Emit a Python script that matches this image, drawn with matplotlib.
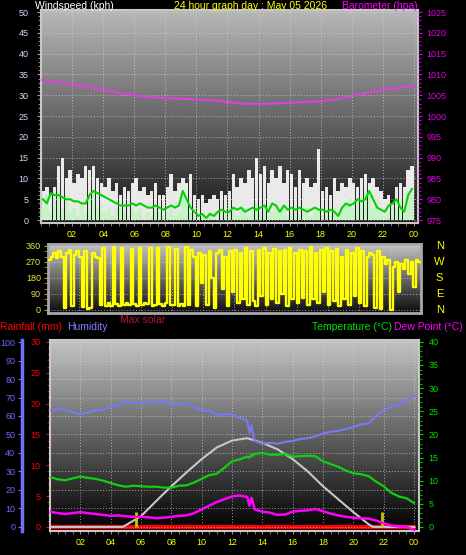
import numpy as np
import matplotlib.pyplot as plt
from matplotlib.colors import LinearSegmentedColormap
from matplotlib.ticker import MultipleLocator

plt.rcParams['font.family'] = ['Liberation Sans', 'DejaVu Sans']

W, H = 466, 555

# windspeed, 15 minute samples (kph)
wind_gust = [7, 8, 6, 8, 13, 15, 10, 12, 9, 11, 10, 13, 12, 13, 10, 9,
             8, 10, 7, 9, 6, 8, 7, 9, 10, 7, 8, 6, 7, 9, 6, 6,
             8, 11, 7, 9, 10, 9, 11, 6, 5, 6, 4, 5, 6, 5, 7, 6,
             7, 11, 8, 10, 9, 12, 10, 15, 11, 13, 9, 12, 10, 13, 9, 12,
             11, 8, 12, 9, 10, 8, 9, 17, 7, 8, 6, 10, 7, 9, 8, 10,
             9, 8, 10, 11, 9, 10, 8, 7, 5, 6, 4, 8, 9, 8, 12, 13]
wind_speed = [3, 6, 2, 5, 7, 3, 6, 2, 3, 1, 4, 2, 5, 7, 3, 4,
              2, 3, 1, 3, 3, 2, 1, 3, 2, 3, 0, 2, 1, 3, 2, 1,
              2, 3, 1, 2, 7, 4, 2, 1, 0, 1, 0, 2, 1, 0, 2, 1,
              2, 3, 1, 2, 3, 1, 2, 4, 2, 3, 1, 2, 3, 2, 3, 1,
              2, 3, 1, 2, 3, 1, 2, 3, 1, 2, 0, 3, 2, 3, 4, 5,
              3, 5, 4, 7, 6, 3, 5, 2, 1, 2, 4, 3, 5, 2, 7, 6]
wind_avg = [5, 4, 6.5, 6, 6, 5.5, 5, 5, 4.5, 4.5, 4, 4, 6, 7, 6.5, 6,
            5.5, 5, 4.5, 4, 3.5, 3.5, 3.5, 4, 3.5, 4, 3.5, 3, 3, 3.5, 3, 2.5,
            3, 3.5, 3, 3.5, 7, 5, 3, 2, 1, 1.5, 0.5, 1.5, 1, 2, 2.5, 2,
            2, 3, 2.5, 3, 2, 2.5, 3, 2.5, 3, 3.5, 2, 4, 3.5, 2, 3.5, 2.5,
            3, 2.5, 3, 2.5, 2, 2.5, 3, 2.5, 2.5, 2, 2.5, 2, 1, 3, 4, 3.5,
            4, 5, 4.5, 5, 7, 5, 3, 2.5, 2, 3.5, 4, 5, 3, 2, 6, 7.5]

# barometer, hourly (hpa)
baro_hours = list(range(25))
baro = [1008.7, 1008.2, 1007.6, 1007.0, 1006.3, 1005.6, 1005.0, 1004.6, 1004.3,
        1004.2, 1004.0, 1003.8, 1003.4, 1003.0, 1003.0, 1003.0, 1003.2, 1003.4,
        1003.6, 1004.0, 1004.8, 1005.6, 1006.3, 1006.8, 1007.2]

# wind direction, 10 minute samples (degrees)
wind_dir = [280, 300, 320, 290, 330, 300,
            10, 320, 340, 20, 310, 330,
            300, 15, 330, 5, 10, 320,
            300, 290, 30, 350, 25, 40,
            20, 355, 35, 25, 350, 30,
            40, 30, 345, 35, 25, 350,
            30, 40, 35, 350, 25, 30,
            350, 35, 25, 40, 355, 30,
            30, 345, 25, 35, 20, 355,
            30, 340, 300, 20, 320, 150,
            310, 30, 330, 180, 10, 320,
            340, 120, 300, 20, 330, 100,
            340, 40, 320, 60, 350, 30,
            330, 50, 20, 340, 80, 350,
            30, 320, 60, 345, 40, 330,
            90, 340, 20, 350, 60, 320,
            40, 340, 70, 330, 30, 355,
            60, 320, 40, 340, 100, 350,
            30, 330, 50, 345, 20, 300,
            60, 340, 30, 320, 80, 350,
            40, 330, 20, 300, 320, 310,
            10, 330, 5, 300, 260, 280,
            0, 240, 270, 100, 260, 230,
            280, 200, 270, 130, 280, 270]

# temperature / humidity panel
th = [0, 0.5, 1, 1.5, 2, 2.5, 3, 3.5, 4, 4.5, 5, 5.5, 6, 6.5, 7, 7.5, 8, 8.5,
      9, 9.5, 10, 10.5, 11, 11.5, 12, 12.5, 13, 13.15, 13.3, 13.4, 13.5, 14,
      14.5, 15, 15.5, 16, 16.5, 17, 17.5, 18, 18.5, 19, 19.5, 20, 20.5, 21,
      21.5, 22, 22.5, 23, 23.5, 24]
humidity = [63, 64, 63, 62, 61, 62, 63, 63.5, 65, 66, 68, 67, 67, 67.5, 67.5, 68,
            66, 66.5, 67, 65, 63, 63, 60.5, 61, 61, 59, 57.5, 51, 55, 49, 46.5, 45,
            45.5, 45, 46, 46.5, 47.5, 48, 49, 50.5, 51.5, 52, 53, 54, 55.5, 56,
            60, 63, 65, 66, 68, 71]
temperature = [10.8, 10.3, 10.1, 10.5, 10.9, 10.6, 10.4, 10.0, 9.5, 9.0, 8.7, 8.9,
               8.8, 8.7, 8.7, 8.5, 8.5, 8.9, 9.0, 9.6, 10.4, 11.2, 11.5, 12.8, 14.2,
               14.6, 15.2, 15.0, 15.6, 15.4, 15.8, 16.0, 15.6, 15.6, 15.8, 15.2, 15.3,
               15.4, 15.3, 14.2, 13.6, 13.0, 12.2, 11.6, 11.4, 11.0, 9.8, 8.8, 7.4,
               6.6, 6.2, 5.2]
dew_point = [3.3, 3.0, 2.8, 3.0, 3.2, 3.0, 2.8, 2.6, 2.4, 2.5, 2.3, 2.2, 2.2, 2.1,
             1.9, 2.0, 2.2, 2.4, 2.5, 3.0, 3.8, 4.6, 5.4, 6.0, 6.6, 6.8, 6.5, 4.6,
             6.3, 5.0, 3.8, 3.3, 3.1, 2.6, 2.7, 3.3, 3.5, 3.6, 3.9, 3.4, 2.9, 2.5,
             2.2, 2.0, 1.9, 1.8, 1.4, 0.8, 0.3, 0.1, 0.0, -0.6]
solar_hours = [0, 4.8, 6, 7, 8, 9, 10, 11, 12, 13, 14, 15, 16, 17, 18, 19, 20, 21, 21.3, 24]
max_solar = [0, 0, 5.8, 14, 22, 29.5, 36.7, 43, 46.7, 48, 45.5, 42, 36.7, 30, 22, 15, 8, 1.5, 0, 0]
rain_hours = [0, 24]
rainfall = [0, 0]
sun_marks = [5.7, 21.9]
sun_mark_height = 8

hour_ticks = list(range(2, 25, 2))
hour_labels = ['%02d' % (h % 24) for h in hour_ticks]


def box(l, t, r, b):
    return [l / W, 1 - b / H, (r - l) / W, (b - t) / H]


def shade(ax, top, bottom):
    cmap = LinearSegmentedColormap.from_list('bg', [bottom, top])
    ax.imshow(np.linspace(0, 1, 256).reshape(-1, 1), cmap=cmap, aspect='auto',
              extent=[0, 1, 0, 1], transform=ax.transAxes, origin='lower', zorder=0)


def frame(ax, color='#c8c8c8', lw=1.5):
    for s in ax.spines.values():
        s.set_color(color)
        s.set_linewidth(lw)


def fig_text(x, y, s, color, ha='left', size=7.5):
    fig.text(x / W, 1 - y / H, s, color=color, ha=ha, va='baseline', fontsize=size)


fig = plt.figure(figsize=(W / 100, H / 100), dpi=100, facecolor='black')
grid_kw = dict(color='#d8d8d8', linestyle=(0, (1, 2)), linewidth=0.7, alpha=0.7)

# ---------------- windspeed / barometer ----------------
ax = fig.add_axes(box(41, 10, 418, 223))
shade(ax, '#b8b8b8', '#161616')
t15 = np.arange(len(wind_gust)) * 0.25 + 0.125
ax.bar(t15, wind_gust, width=0.22, color='white', alpha=0.9, zorder=2)
ax.bar(t15, wind_speed, width=0.22, color='#c6f2c6', zorder=3)
ax.plot(t15, wind_avg, color='#00d400', lw=1.5, zorder=4)
ax.set_xlim(0, 24.26)
ax.set_ylim(-0.7, 50.5)
ax.set_yticks(range(0, 51, 5))
ax.yaxis.set_minor_locator(MultipleLocator(1))
ax.set_xticks(hour_ticks)
ax.set_xticklabels(hour_labels)
ax.xaxis.set_minor_locator(MultipleLocator(0.5))
ax.tick_params(axis='y', which='both', colors='#a0a0a0', labelcolor='#c8dcff',
               labelsize=6.5, length=3, pad=6)
ax.tick_params(axis='y', which='minor', length=2)
ax.tick_params(axis='x', which='both', colors='#909090', labelcolor='#ffff00',
               labelsize=6.5, length=2, pad=3)
ax.grid(True, **grid_kw)
frame(ax)

ax2 = ax.twinx()
ax2.plot(baro_hours, baro, color='#e040e0', lw=1.5)
ax2.set_ylim(974.3, 1025.5)
ax2.set_yticks(range(975, 1026, 5))
ax2.yaxis.set_minor_locator(MultipleLocator(1))
ax2.tick_params(axis='y', which='both', colors='#e000e0', labelcolor='#e000e0',
                labelsize=6.5, length=3, pad=3)
ax2.tick_params(axis='y', which='minor', length=2)
for s in ax2.spines.values():
    s.set_visible(False)

# ---------------- wind direction ----------------
axd = fig.add_axes(box(48, 244, 421, 313))
shade(axd, '#c4c4c4', '#0c0c0c')
t10 = np.arange(len(wind_dir)) / 6 + 1 / 12
axd.plot(t10, wind_dir, color='#ffff00', lw=1.7, drawstyle='steps-mid', zorder=3)
axd.set_xlim(0, 24)
axd.set_ylim(-17, 371)
axd.set_yticks([0, 90, 180, 270, 360])
axd.yaxis.set_minor_locator(MultipleLocator(30))
axd.set_xticks(hour_ticks)
axd.set_xticklabels([])
axd.tick_params(axis='y', which='both', colors='#a8a800', labelcolor='#e8e840',
                labelsize=6.5, length=3, pad=2)
axd.tick_params(axis='x', length=0)
axd.grid(True, **grid_kw)
frame(axd, '#a8a8a8', 2)
for v, letter in zip([360, 270, 180, 90, 0], ['N', 'W', 'S', 'E', 'N']):
    axd.text(1.05, v, letter, color='#ffff00', fontsize=8, ha='center', va='center',
             transform=axd.get_yaxis_transform())

# ---------------- temperature / humidity ----------------
axr = fig.add_axes(box(50, 340, 419, 531))
shade(axr, '#c4c4c4', '#000000')
axr.plot(rain_hours, rainfall, color='#ff0000', lw=3, zorder=2)
axr.set_xlim(0, 24.33)
axr.set_ylim(-0.65, 30.3)
axr.set_yticks(range(0, 31, 5))
axr.yaxis.set_minor_locator(MultipleLocator(1))
axr.set_xticks(hour_ticks)
axr.set_xticklabels(hour_labels)
axr.xaxis.set_minor_locator(MultipleLocator(0.5))
axr.tick_params(axis='y', which='both', colors='#ff0000', labelcolor='#ff0000',
                labelsize=6.5, length=3, pad=4)
axr.tick_params(axis='y', which='minor', length=2)
axr.tick_params(axis='x', which='both', colors='#909090', labelcolor='#ffff00',
                labelsize=6.5, length=2, pad=3)
axr.grid(True, axis='x', **grid_kw)
frame(axr)

axh = axr.twinx()
axh.yaxis.tick_left()
axh.spines['left'].set_position(('outward', 20))
axh.spines['left'].set_color('#7070ff')
axh.spines['left'].set_linewidth(2.5)
for side in ['right', 'top', 'bottom']:
    axh.spines[side].set_visible(False)
axh.plot(solar_hours, max_solar, color='#c8c8c8', lw=1.5, zorder=3)
axh.plot(th, humidity, color='#7878f0', lw=1.6, zorder=4)
axh.vlines(sun_marks, 0, sun_mark_height, color='#c8c800', lw=2, zorder=3)
axh.set_ylim(-2.2, 101.1)
axh.set_yticks(range(0, 101, 10))
axh.tick_params(axis='y', which='both', colors='#7070ff', labelcolor='#6a6aff',
                labelsize=6.5, length=3, pad=2)
axh.grid(True, axis='y', **grid_kw)

axt = axr.twinx()
for s in axt.spines.values():
    s.set_visible(False)
axt.plot(th, temperature, color='#10d010', lw=1.6, zorder=4)
axt.plot(th, dew_point, color='#ff00ff', lw=1.8, zorder=4)
axt.set_ylim(-0.87, 40.4)
axt.set_yticks(range(0, 41, 5))
axt.yaxis.set_minor_locator(MultipleLocator(1))
axt.tick_params(axis='y', which='both', colors='#00d000', labelcolor='#00e000',
                labelsize=6.5, length=3, pad=4)
axt.tick_params(axis='y', which='minor', length=2)

# ---------------- labels ----------------
fig_text(35, 9, 'Windspeed (kph)', 'white')
fig_text(251, 9, '24 hour graph day : May 05 2026', '#ffff00', ha='center')
fig_text(418, 9, 'Barometer (hpa)', '#ff00ff', ha='right')
fig_text(0, 330, 'Rainfall (mm)', '#ff0000')
fig_text(67, 330, 'Humidity', '#8080ff')
fig_text(120, 323, 'Max solar', '#b01838')
fig_text(392, 330, 'Temperature (\u00b0C)', '#00e000', ha='right')
fig_text(394, 330, 'Dew Point (\u00b0C)', '#ff00ff')

fig.savefig('out.png', dpi=100, facecolor='black')
